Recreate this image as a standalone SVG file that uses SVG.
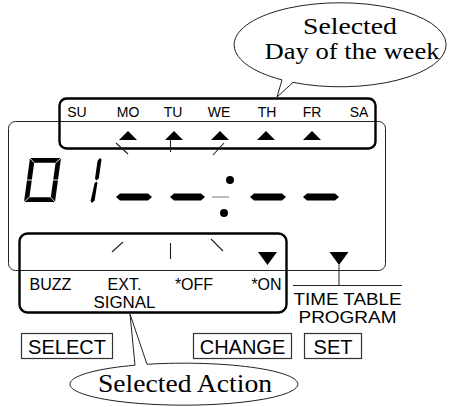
<svg xmlns="http://www.w3.org/2000/svg" width="449" height="407" viewBox="0 0 449 407">
<style>
.thin{fill:none;stroke:#222;stroke-width:1}
.thick{fill:none;stroke:#000;stroke-width:2.4}
.seg{fill:none;stroke:#222;stroke-width:1.1}
.lbl{font-family:"Liberation Sans",Arial,sans-serif;fill:#000;text-anchor:middle}
.ser{font-family:"Liberation Serif","Times New Roman",serif;fill:#000;text-anchor:middle}
.tri{fill:#000}
.btn{fill:none;stroke:#333;stroke-width:1.2}
</style>
<rect width="449" height="407" fill="#fff"/>

<g id="display">
<rect class="thin" x="8.5" y="121.5" width="377" height="149" rx="7"/>
</g>

<g id="days-box">
<rect class="thick" x="59.5" y="98.5" width="316" height="50" rx="7"/>
<text class="lbl" font-size="14" x="77" y="117">SU</text>
<text class="lbl" font-size="14" x="128" y="117">MO</text>
<text class="lbl" font-size="14" x="173" y="117">TU</text>
<text class="lbl" font-size="14" x="219" y="117">WE</text>
<text class="lbl" font-size="14" x="267" y="117">TH</text>
<text class="lbl" font-size="14" x="312" y="117">FR</text>
<text class="lbl" font-size="14" x="359" y="117">SA</text>
<path class="tri" d="M128,131 L137,140 L119,140 Z"/>
<path class="tri" d="M174,131 L183,140 L165,140 Z"/>
<path class="tri" d="M220,131 L229,140 L211,140 Z"/>
<path class="tri" d="M266,131 L275,140 L257,140 Z"/>
<path class="tri" d="M312,131 L321,140 L303,140 Z"/>
<line class="seg" x1="116" y1="143" x2="128" y2="154"/>
<line class="seg" x1="170.5" y1="139" x2="170.5" y2="152"/>
<line class="seg" x1="213" y1="155" x2="224" y2="143"/>
</g>

<g id="digits">
<path fill="#000" fill-rule="evenodd" d="M30,158 L61,158 L55,202 L24,202 Z M34.2,162.8 L55.6,162.8 L50.8,197.2 L29.4,197.2 Z"/>
<g stroke="#fff" stroke-width="0.9">
<line x1="30" y1="158" x2="34.2" y2="162.8"/>
<line x1="61" y1="158" x2="55.6" y2="162.8"/>
<line x1="55" y1="202" x2="50.8" y2="197.2"/>
<line x1="24" y1="202" x2="29.4" y2="197.2"/>
<line x1="26" y1="180" x2="32" y2="180"/>
<line x1="53" y1="180" x2="59" y2="180"/>
</g>
<path fill="#000" d="M97.5,161 L100,158 L101.5,159.5 L98.8,178.5 L96.5,180.5 L95,178.8 Z"/>
<path fill="#000" d="M94.6,183 L96.5,181.5 L97.4,183.2 L94.6,200.5 L91.8,203 L90.6,201 Z"/>
</g>

<g id="dashes">
<path fill="#000" d="M116,197 L120,193.5 L148,193.5 L152,197 L148,200.5 L120,200.5 Z"/>
<path fill="#000" d="M170,197 L174,193.5 L201,193.5 L205,197 L201,200.5 L174,200.5 Z"/>
<path fill="#000" d="M250,197 L254,193.5 L282,193.5 L286,197 L282,200.5 L254,200.5 Z"/>
<path fill="#000" d="M303,197 L307,193.5 L335,193.5 L339,197 L335,200.5 L307,200.5 Z"/>
<circle cx="230" cy="180" r="4" fill="#000"/>
<circle cx="224" cy="213" r="4" fill="#000"/>
<line x1="212" y1="197" x2="229" y2="197" stroke="#777" stroke-width="1"/>
</g>

<g id="action-box">
<rect class="thick" x="19.5" y="233.5" width="267" height="79" rx="8"/>
<line class="seg" x1="112" y1="252" x2="123" y2="242"/>
<line class="seg" x1="170.5" y1="243" x2="170.5" y2="259"/>
<line class="seg" x1="211" y1="239" x2="223" y2="251"/>
<path class="tri" d="M258,252 L277,252 L267.5,265 Z"/>
<text class="lbl" font-size="16" x="50.5" y="290">BUZZ</text>
<text class="lbl" font-size="16"><tspan x="124.5" y="290">EXT.</tspan><tspan x="124.5" y="308" textLength="62" lengthAdjust="spacingAndGlyphs">SIGNAL</tspan></text>
<text class="lbl" font-size="16" x="194" y="290">*OFF</text>
<text class="lbl" font-size="16" x="266.5" y="290">*ON</text>
</g>

<g id="time-table">
<path class="tri" d="M329.5,252 L348.5,252 L339,265 Z"/>
<text class="lbl" font-size="16"><tspan x="347.5" y="304.5" textLength="108" lengthAdjust="spacingAndGlyphs">TIME TABLE</tspan><tspan x="347.5" y="323" textLength="98" lengthAdjust="spacingAndGlyphs">PROGRAM</tspan></text>
</g>

<g id="connectors">
<line class="thin" x1="339" y1="265" x2="339" y2="285"/>
<line class="thin" x1="293" y1="285.5" x2="402" y2="285.5"/>
</g>

<g id="btn-select">
<rect class="btn" x="21.5" y="333.5" width="91" height="25"/>
<text class="lbl" font-size="20" x="67" y="354">SELECT</text>
</g>
<g id="btn-change">
<rect class="btn" x="193.5" y="333.5" width="98" height="25"/>
<text class="lbl" font-size="20" x="242.5" y="354">CHANGE</text>
</g>
<g id="btn-set">
<rect class="btn" x="304.5" y="333.5" width="57" height="25"/>
<text class="lbl" font-size="20" x="333" y="354">SET</text>
</g>

<g id="callout-day">
<path class="thin" d="M282,79.9 L277,97 L293,82.4 A106,42 0 1 0 282,79.9"/>
<text class="ser" font-size="22.5"><tspan x="350" y="34" textLength="94" lengthAdjust="spacingAndGlyphs">Selected</tspan><tspan x="352" y="59" textLength="175" lengthAdjust="spacingAndGlyphs">Day of the week</tspan></text>
</g>

<g id="callout-action">
<path class="thin" d="M135,365.2 L130,314 L147,364.3 A114,21 0 1 1 135,365.2"/>
<text class="ser" font-size="26" x="185" y="392" textLength="174" lengthAdjust="spacingAndGlyphs">Selected Action</text>
</g>
</svg>
